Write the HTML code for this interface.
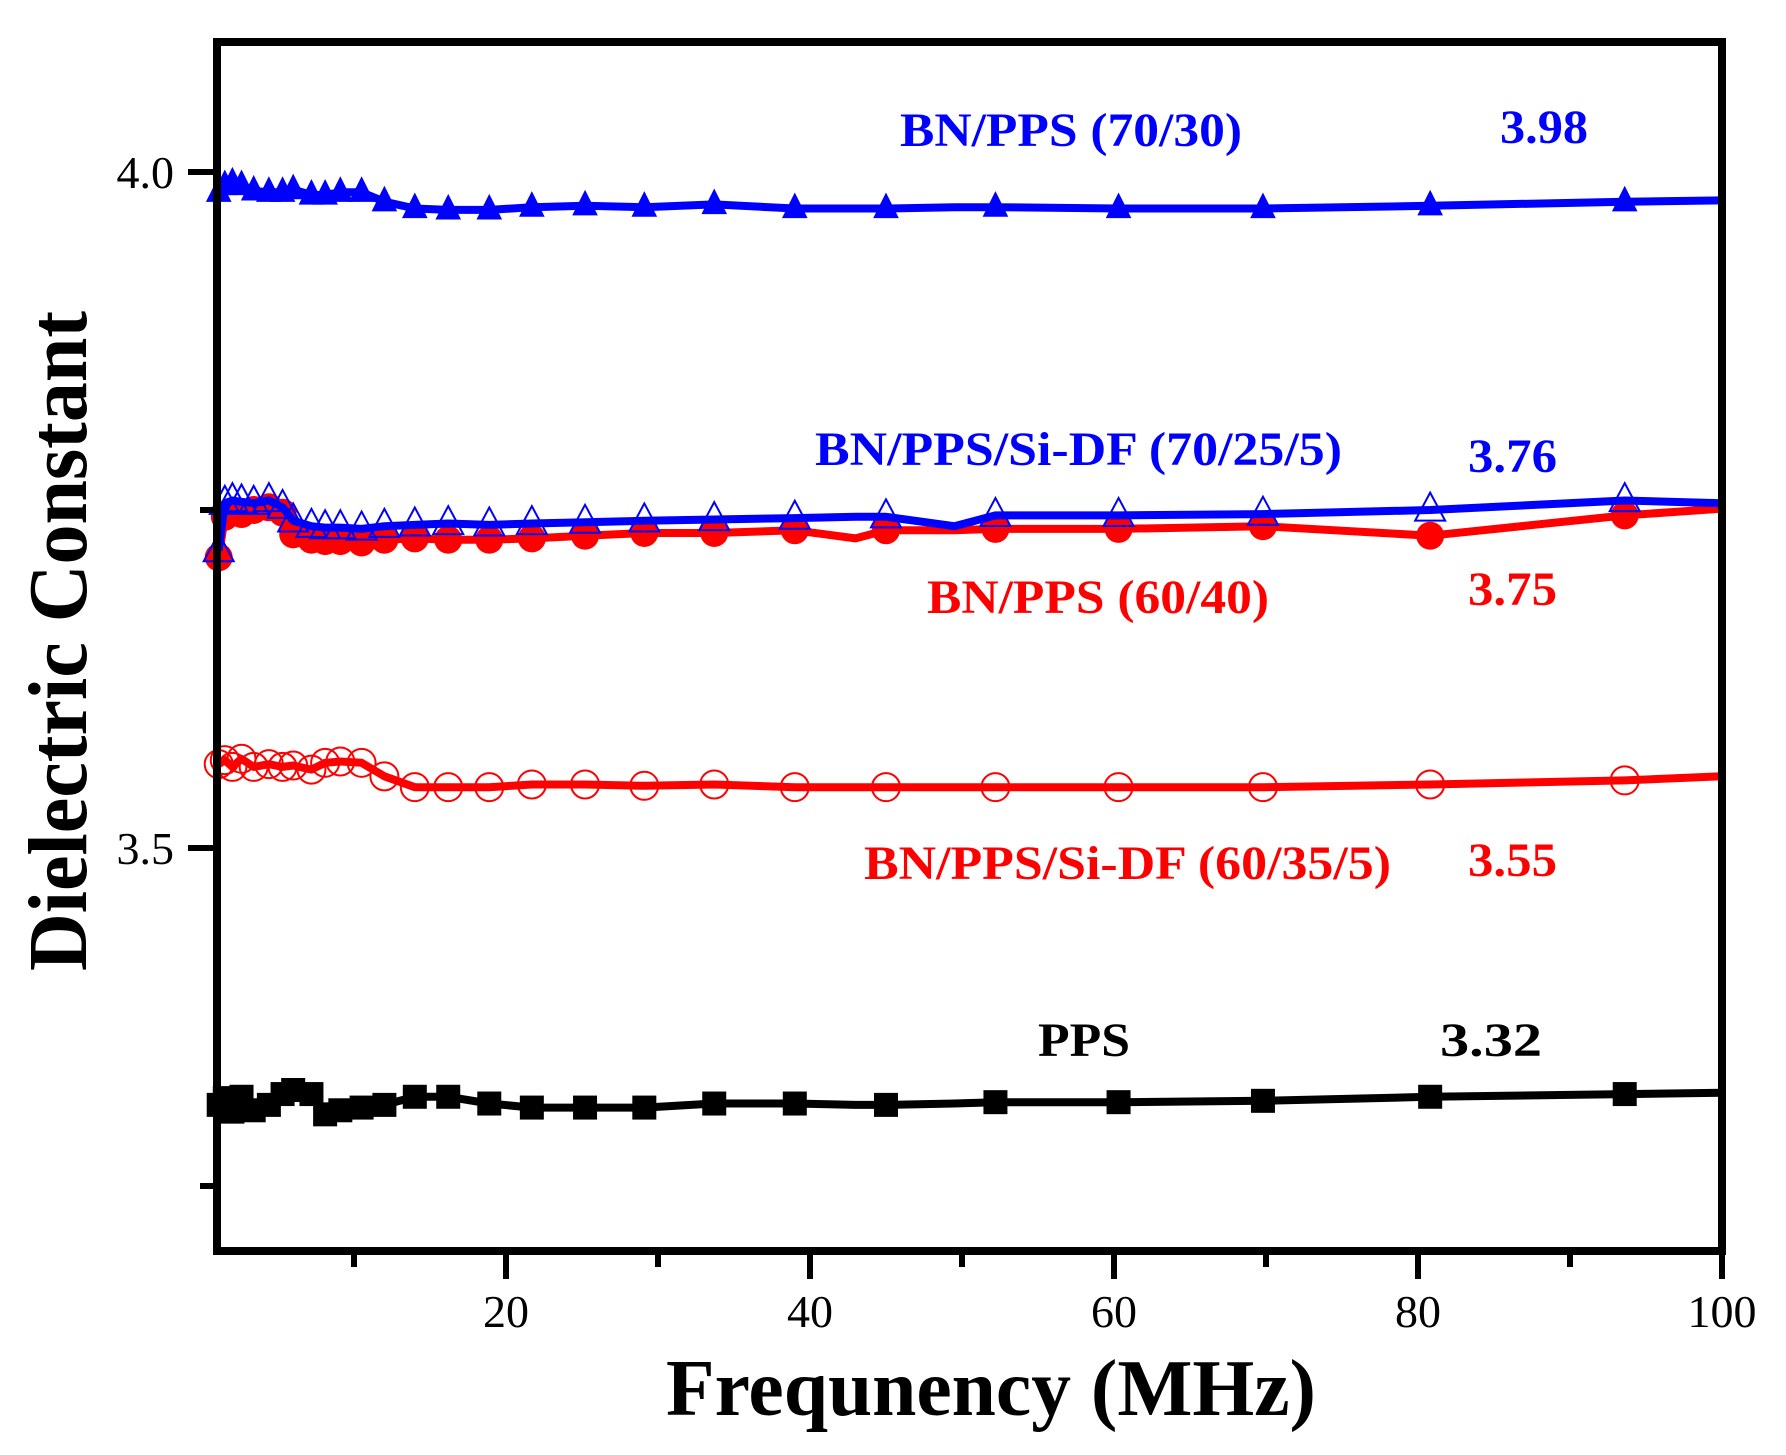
<!DOCTYPE html>
<html><head><meta charset="utf-8"><style>
html,body{margin:0;padding:0;background:#fff;}
svg{display:block;}
text{font-family:"Liberation Serif",serif;}
</style></head><body>
<svg id="chart" width="1786" height="1455" viewBox="0 0 1786 1455" xmlns="http://www.w3.org/2000/svg">
<g id="series"></g>
<rect x="217" y="42" width="1505" height="1209" fill="none" stroke="#000" stroke-width="8"/>
<g id="axes"></g>
<text transform="translate(86,971) rotate(-90)" font-size="84" font-weight="bold" textLength="660" lengthAdjust="spacingAndGlyphs">Dielectric Constant</text>
<text x="666" y="1415" font-size="80" font-weight="bold" textLength="650" lengthAdjust="spacingAndGlyphs">Frequnency (MHz)</text>
<text x="900" y="146" font-size="48" font-weight="bold" fill="#0000ff" textLength="342" lengthAdjust="spacingAndGlyphs">BN/PPS (70/30)</text>
<text x="1500" y="143" font-size="48" font-weight="bold" fill="#0000ff" textLength="88" lengthAdjust="spacingAndGlyphs">3.98</text>
<text x="815" y="465" font-size="48" font-weight="bold" fill="#0000ff" textLength="527" lengthAdjust="spacingAndGlyphs">BN/PPS/Si-DF (70/25/5)</text>
<text x="1468" y="472" font-size="48" font-weight="bold" fill="#0000ff" textLength="89" lengthAdjust="spacingAndGlyphs">3.76</text>
<text x="927" y="613" font-size="48" font-weight="bold" fill="#ff0000" textLength="342" lengthAdjust="spacingAndGlyphs">BN/PPS (60/40)</text>
<text x="1468" y="605" font-size="48" font-weight="bold" fill="#ff0000" textLength="89" lengthAdjust="spacingAndGlyphs">3.75</text>
<text x="864" y="879" font-size="48" font-weight="bold" fill="#ff0000" textLength="527" lengthAdjust="spacingAndGlyphs">BN/PPS/Si-DF (60/35/5)</text>
<text x="1468" y="876" font-size="48" font-weight="bold" fill="#ff0000" textLength="89" lengthAdjust="spacingAndGlyphs">3.55</text>
<text x="1038" y="1056" font-size="48" font-weight="bold" fill="#000" textLength="92" lengthAdjust="spacingAndGlyphs">PPS</text>
<text x="1440" y="1056" font-size="48" font-weight="bold" fill="#000" textLength="102" lengthAdjust="spacingAndGlyphs">3.32</text>
</svg>
<script>
const freq = [1.1,1.5,2.0,2.6,3.4,4.4,5.3,6.0,7.2,8.1,9.1,10.5,12,14,16.2,18.9,21.7,25.2,29.1,33.7,39,43,45,49.5,52.2,60.3,69.8,80.8,93.6,100];
const hasMarker = [1,1,1,1,1,1,1,1,1,1,1,1,1,1,1,1,1,1,1,1,1,0,1,0,1,1,1,1,1,0];
const bn7030 = [3.985,3.99,3.992,3.99,3.986,3.985,3.985,3.987,3.983,3.983,3.985,3.985,3.978,3.973,3.972,3.972,3.974,3.975,3.974,3.976,3.973,3.973,3.973,3.974,3.974,3.973,3.973,3.975,3.978,3.979];
const bnSi70 = [3.72,3.755,3.757,3.756,3.755,3.757,3.752,3.742,3.738,3.737,3.737,3.736,3.738,3.739,3.74,3.739,3.74,3.741,3.742,3.743,3.744,3.745,3.745,3.738,3.746,3.746,3.747,3.75,3.757,3.755];
const bn6040 = [3.715,3.745,3.748,3.747,3.75,3.752,3.748,3.732,3.728,3.727,3.727,3.726,3.728,3.729,3.728,3.728,3.729,3.731,3.733,3.733,3.735,3.729,3.735,3.735,3.736,3.736,3.738,3.731,3.746,3.751];
const bnSi60 = [3.562,3.565,3.56,3.566,3.56,3.562,3.56,3.561,3.558,3.563,3.564,3.563,3.553,3.545,3.545,3.545,3.547,3.547,3.546,3.547,3.545,3.545,3.545,3.545,3.545,3.545,3.545,3.547,3.55,3.553];
const pps = [3.31,3.315,3.305,3.316,3.306,3.31,3.318,3.321,3.318,3.303,3.306,3.308,3.31,3.316,3.316,3.311,3.308,3.308,3.308,3.311,3.311,3.31,3.31,3.311,3.312,3.312,3.313,3.316,3.318,3.319];
const xTicks = [20,40,60,80,100];
const xMinor = [10,30,50,70,90];
const yTicks = [4.0,3.5];
const yMinor = [3.75,3.25];
const yTickLabels = ["4.0","3.5"];

const NS = "http://www.w3.org/2000/svg";
const X0 = 202, XS = 15.2;
const xs = v => X0 + v * XS;
const ys = v => 172 + (4.0 - v) * 1352;
const YB = 1251;
function mk(tag, attrs, parent) {
  const e = document.createElementNS(NS, tag);
  for (const k in attrs) e.setAttribute(k, attrs[k]);
  parent.appendChild(e);
  return e;
}
const seriesG = document.getElementById('series');
const axesG = document.getElementById('axes');

function marker(shape, cx, cy, color, parent) {
  let e;
  if (shape === 'tri' || shape === 'otri') {
    const h = shape === 'tri' ? 24 : 28, w = shape === 'tri' ? 24 : 30;
    const pts = `${cx},${cy - h * 0.62} ${cx - w / 2},${cy + h * 0.38} ${cx + w / 2},${cy + h * 0.38}`;
    e = mk('polygon', {points: pts, fill: shape === 'tri' ? color : 'none', stroke: color, 'stroke-width': shape === 'tri' ? 1 : 2}, parent);
  } else if (shape === 'circ') {
    e = mk('circle', {cx: cx, cy: cy, r: 14, fill: color}, parent);
  } else if (shape === 'ocirc') {
    e = mk('circle', {cx: cx, cy: cy, r: 14, fill: 'none', stroke: color, 'stroke-width': 2}, parent);
  } else {
    e = mk('rect', {x: cx - 12, y: cy - 12, width: 24, height: 24, fill: color}, parent);
  }
  return e;
}
function drawSeries(vals, color, shape, name) {
  const g = mk('g', {}, seriesG);
  
  
  const d = vals.map((v, i) => (i ? 'L' : 'M') + xs(freq[i]).toFixed(1) + ',' + ys(v).toFixed(1)).join(' ');
  const p = mk('path', {d: d, fill: 'none', stroke: color, 'stroke-width': 8, 'stroke-linejoin': 'round'}, g);
  
  
  vals.forEach((v, i) => {
    if (!hasMarker[i]) return;
    const m = marker(shape, xs(freq[i]), ys(v), color, g);
    
    
  });
}
drawSeries(bnSi60, '#ff0000', 'ocirc', 'series-bn-pps-sidf-60-35-5');
drawSeries(bn6040, '#ff0000', 'circ', 'series-bn-pps-60-40');
drawSeries(bnSi70, '#0000ff', 'otri', 'series-bn-pps-sidf-70-25-5');
drawSeries(bn7030, '#0000ff', 'tri', 'series-bn-pps-70-30');
drawSeries(pps, '#000000', 'sq', 'series-pps');

xTicks.forEach(v => {
  const t = mk('line', {x1: xs(v), x2: xs(v), y1: YB, y2: YB + 28, stroke: '#000', 'stroke-width': 6}, axesG);
  
  
  const l = mk('text', {x: xs(v), y: 1327, 'font-size': 46, 'text-anchor': 'middle'}, axesG);
  l.textContent = String(v);
  
  
});
xMinor.forEach(v => {
  const t = mk('line', {x1: xs(v), x2: xs(v), y1: YB, y2: YB + 16, stroke: '#000', 'stroke-width': 6}, axesG);
  
  
});
yTicks.forEach((v, i) => {
  const t = mk('line', {x1: 188, x2: 217, y1: ys(v), y2: ys(v), stroke: '#000', 'stroke-width': 6}, axesG);
  
  
  const l = mk('text', {x: 174, y: ys(v) + 16, 'font-size': 46, 'text-anchor': 'end'}, axesG);
  l.textContent = yTickLabels[i];
  
  
});
yMinor.forEach(v => {
  const t = mk('line', {x1: 200, x2: 217, y1: ys(v), y2: ys(v), stroke: '#000', 'stroke-width': 6}, axesG);
  
  
});
</script>
</body></html>
